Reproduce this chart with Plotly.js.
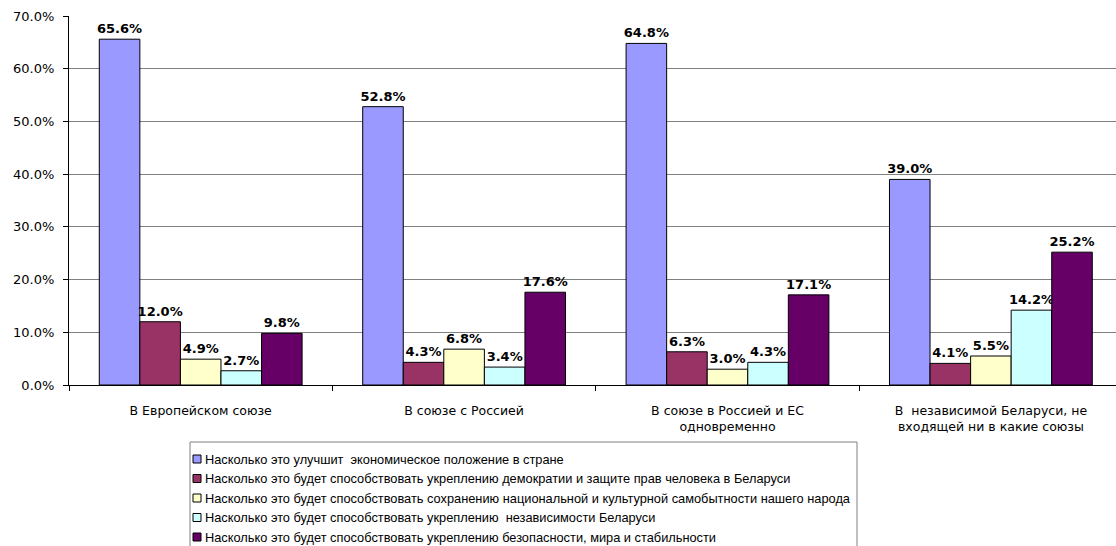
<!DOCTYPE html>
<html>
<head>
<meta charset="utf-8">
<script src="https://cdn.plot.ly/plotly-3.0.1.min.js"></script>
<style>html,body{margin:0;padding:0;background:#fff;}#chart{width:1116px;height:546px;}</style>
</head>
<body>
<div id="chart"></div>
<script>
const categories = [
  "В Европейском союзе",
  "В союзе с Россией",
  "В союзе в Россией и ЕС<br>одновременно",
  "В  независимой Беларуси, не<br>входящей ни в какие союзы"
];
const seriesNames = [
  "Насколько это улучшит  экономическое положение в стране",
  "Насколько это будет способствовать укреплению демократии и защите прав человека в Беларуси",
  "Насколько это будет способствовать сохранению национальной и культурной самобытности нашего народа",
  "Насколько это будет способствовать укреплению  независимости Беларуси",
  "Насколько это будет способствовать укреплению безопасности, мира и стабильности"
];
const economy   = [65.6, 52.8, 64.8, 39.0];
const democracy = [12.0, 4.3, 6.3, 4.1];
const identity  = [4.9, 6.8, 3.0, 5.5];
const independence = [2.7, 3.4, 4.3, 14.2];
const security  = [9.8, 17.6, 17.1, 25.2];
const yTickVals = [0, 10, 20, 30, 40, 50, 60, 70];
const yTickText = ["0.0%", "10.0%", "20.0%", "30.0%", "40.0%", "50.0%", "60.0%", "70.0%"];

const seriesValues = [economy, democracy, identity, independence, security];
const colors = ["#9999FF", "#993366", "#FFFFCC", "#CCFFFF", "#660066"];

const W = 1116, H = 546;
const M = {l: 69, r: 0, t: 16, b: 161};
const plotW = W - M.l - M.r, plotH = H - M.t - M.b;
const px2x = px => (px - M.l) / plotW;
const py2y = py => (H - M.b - py) / plotH;

const axisFont = "DejaVu Sans, Verdana, sans-serif";
const legendFont = "Liberation Sans, Arial, sans-serif";

const traces = seriesValues.map((vals, i) => ({
  type: "bar",
  name: seriesNames[i],
  x: categories,
  y: vals,
  marker: {color: colors[i], line: {color: "#000000", width: 1}},
  text: vals.map(v => v.toFixed(1) + "%"),
  textposition: "outside",
  constraintext: "none",
  textfont: {family: axisFont, size: 13, color: "#000000", weight: "bold"},
  cliponaxis: false,
  hoverinfo: "skip",
  showlegend: false
}));

// custom legend (box, swatches, labels)
const legLeft = 190, legTop = 442, legRight = 857, rowY0 = 459, rowStep = 19.5;
const shapes = [{
  type: "rect", xref: "paper", yref: "paper",
  x0: px2x(legLeft), x1: px2x(legRight), y0: py2y(H + 10), y1: py2y(legTop),
  line: {color: "#808080", width: 1}, fillcolor: "rgba(0,0,0,0)", layer: "above"
}];
const annotations = [];
seriesNames.forEach((name, i) => {
  const cy = rowY0 + i * rowStep;
  shapes.push({
    type: "rect", xref: "paper", yref: "paper",
    x0: px2x(193), x1: px2x(201), y0: py2y(cy + 4), y1: py2y(cy - 4),
    line: {color: "#000000", width: 1}, fillcolor: colors[i], layer: "above"
  });
  annotations.push({
    xref: "paper", yref: "paper", x: px2x(203), y: py2y(cy),
    xanchor: "left", yanchor: "middle", showarrow: false,
    text: name, font: {family: legendFont, size: 12.8, color: "#000000"}
  });
});

const layout = {
  width: W,
  height: H,
  margin: {l: M.l, r: M.r, t: M.t, b: M.b, autoexpand: false},
  paper_bgcolor: "#ffffff",
  plot_bgcolor: "#ffffff",
  barmode: "group",
  bargap: 0.23,
  bargroupgap: 0,
  font: {family: axisFont, size: 12, color: "#000000"},
  xaxis: {
    type: "category",
    range: [-0.5, 3.475],
    tickson: "boundaries",
    ticks: "outside",
    ticklen: 5,
    tickcolor: "#000000",
    showline: true,
    linecolor: "#000000",
    linewidth: 1,
    showgrid: false,
    tickfont: {family: axisFont, size: 12.5},
    ticklabelstandoff: 14,
    automargin: false
  },
  yaxis: {
    range: [0, 70],
    tickvals: yTickVals,
    ticktext: yTickText,
    ticks: "outside",
    ticklen: 5,
    tickcolor: "#000000",
    showline: true,
    linecolor: "#000000",
    linewidth: 1,
    showgrid: true,
    gridcolor: "#808080",
    gridwidth: 1,
    zeroline: false,
    tickfont: {family: axisFont, size: 13},
    ticklabelstandoff: 6,
    automargin: false
  },
  showlegend: false,
  shapes: shapes,
  annotations: annotations
};

Plotly.newPlot("chart", traces, layout, {staticPlot: true, displayModeBar: false});
</script>
</body>
</html>
